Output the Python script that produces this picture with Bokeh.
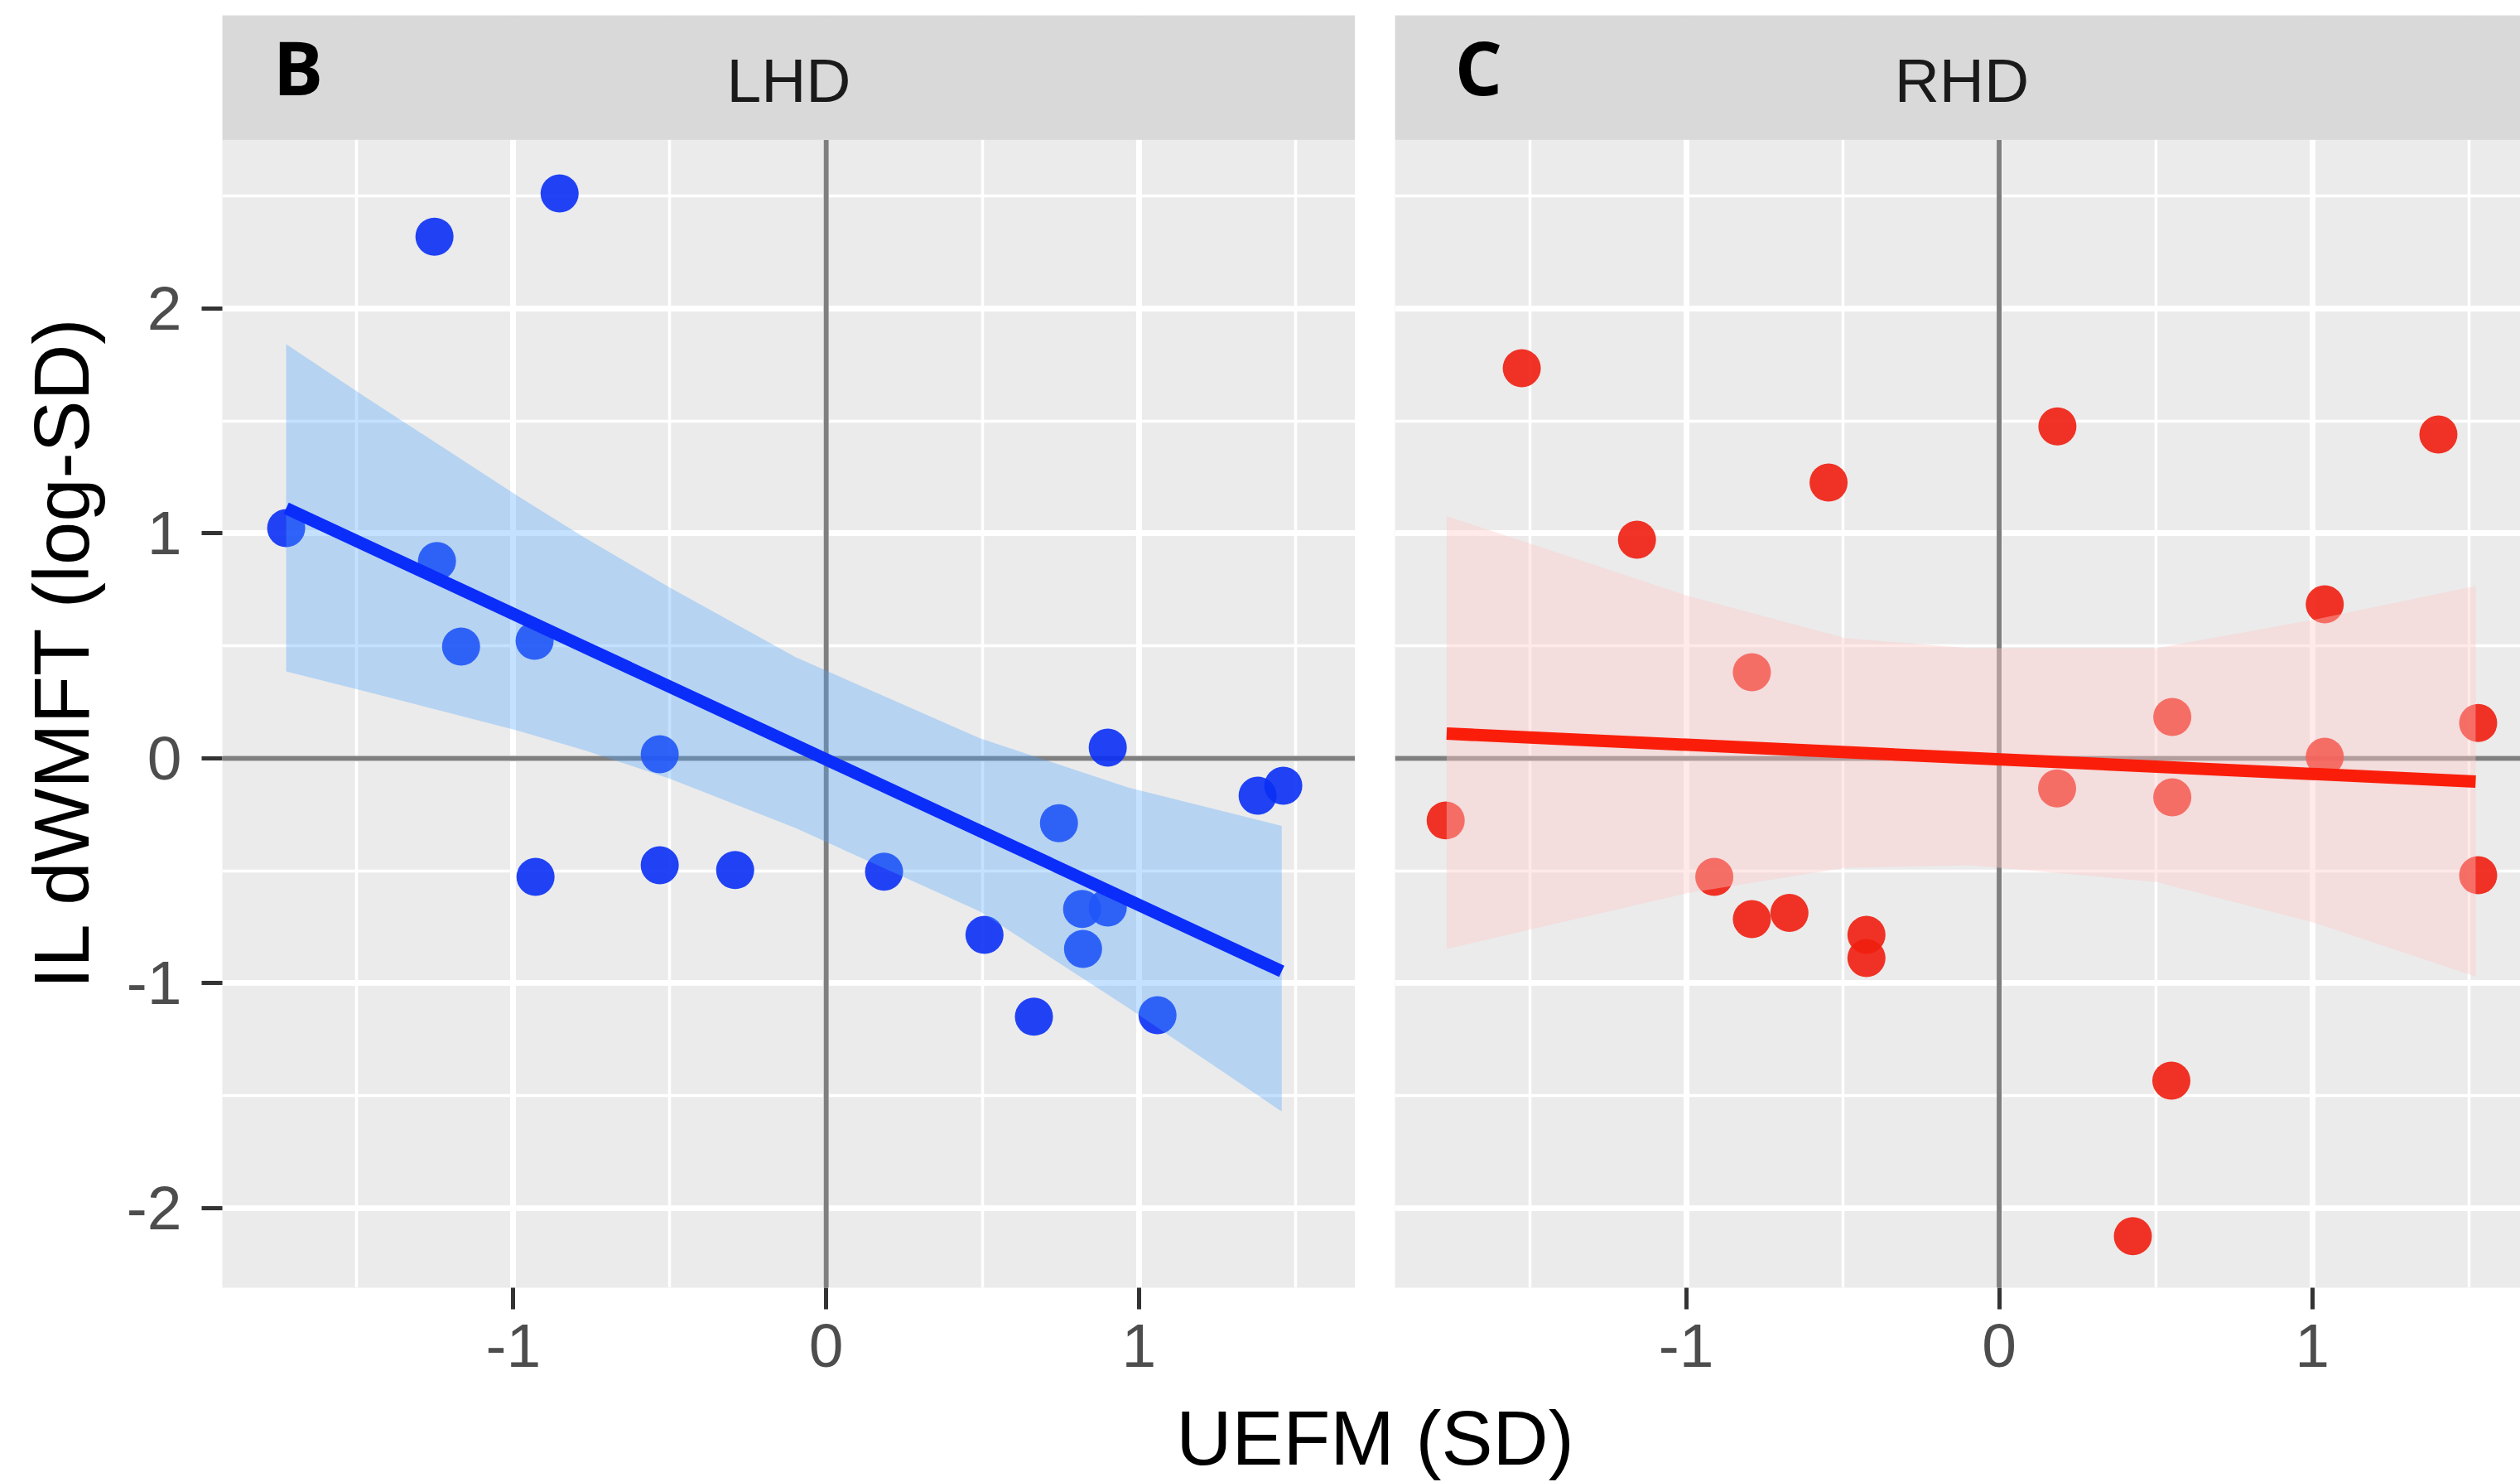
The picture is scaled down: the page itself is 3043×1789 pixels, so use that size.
from bokeh.plotting import figure
from bokeh.models import FixedTicker, Range1d
from bokeh.layouts import column, row
from bokeh.embed import file_html
from bokeh.resources import INLINE
from bokeh.core.properties import value

# ---------------- data ----------------
lhd_x = [-1.726, -1.252, -0.852, -1.244, -1.167, -0.932, -0.532, -0.929, -0.532, -0.291, 0.185,
         0.506, 0.744, 0.900, 0.818, 0.900, 0.821, 0.664, 1.059, 1.379, 1.461]
lhd_y = [1.024, 2.320, 2.512, 0.877, 0.497, 0.523, 0.018, -0.527, -0.475, -0.497, -0.504,
         -0.785, -0.288, 0.048, -0.670, -0.663, -0.847, -1.149, -1.142, -0.166, -0.122]

rhd_x = [-1.768, -1.525, -1.157, -0.790, -0.545, -0.910, -0.790, -0.670, -0.424, -0.424, 0.186,
         0.185, 0.553, 0.553, 0.427, 0.550, 1.040, 1.040, 1.403, 1.530, 1.530]
rhd_y = [-0.276, 1.735, 0.972, 0.383, 1.226, -0.527, -0.715, -0.687, -0.785, -0.888, 1.476,
         -0.134, 0.184, -0.173, -2.125, -1.433, 0.685, 0.007, 1.440, 0.157, -0.520]

lhd_fit_x = [-1.726, 1.456]
lhd_fit_y = [1.112, -0.947]
rhd_fit_x = [-1.765, 1.522]
rhd_fit_y = [0.110, -0.103]

lhd_band_x = [-1.726, -1.479, -1.36, -0.99, -0.77, -0.50, -0.098, 0.49, 0.966, 1.456]
lhd_band_hi = [1.842, 1.612, 1.505, 1.17, 0.98, 0.76, 0.45, 0.09, -0.13, -0.30]
lhd_band_lo = [0.387, 0.30, 0.258, 0.125, 0.035, -0.09, -0.31, -0.68, -1.11, -1.57]

rhd_band_x = [-1.765, -0.998, -0.49, -0.09, 0.503, 1.006, 1.522]
rhd_band_hi = [1.077, 0.724, 0.534, 0.49, 0.49, 0.617, 0.766]
rhd_band_lo = [-0.847, -0.60, -0.486, -0.475, -0.55, -0.73, -0.97]

x_ticks = [-1, 0, 1]
x_minor = [-1.5, -0.5, 0.5, 1.5]
y_ticks = [-2, -1, 0, 1, 2]
y_minor = [-1.5, -0.5, 0.5, 1.5, 2.5]
tick_labels = {-2: "-2", -1: "-1", 0: "0", 1: "1", 2: "2"}

panel_names = ["LHD", "RHD"]
panel_tags = ["B", "C"]
x_title = "UEFM (SD)"
y_title = "IL dWMFT (log-SD)"

# ---------------- layout constants ----------------
X_LO, X_HI = -1.930, 1.691      # full ggplot panel range
X_HI_RIGHT = 1.665              # right panel is clipped by the image edge
Y_LO, Y_PANEL_TOP, Y_FRAME_TOP = -2.354, 2.751, 3.304
FONT = "Liberation Sans"
FIG_H = 1680


def make_panel(width, min_left, x_hi, show_y):
    p = figure(width=width, height=FIG_H, x_range=Range1d(X_LO, x_hi),
               y_range=Range1d(Y_LO, Y_FRAME_TOP), output_backend="svg",
               toolbar_location=None, min_border_left=min_left, min_border_right=0,
               min_border_top=18, min_border_bottom=126,
               y_axis_location="left" if show_y else None)
    p.outline_line_color = None
    p.background_fill_color = "#EBEBEB"
    p.border_fill_color = "white"

    xt = FixedTicker(ticks=x_ticks, minor_ticks=x_minor)
    yt = FixedTicker(ticks=y_ticks, minor_ticks=y_minor)
    p.xaxis.ticker = xt
    p.xgrid.ticker = xt
    p.ygrid.ticker = yt
    for g in (p.xgrid, p.ygrid):
        g.grid_line_color = "white"
        g.grid_line_width = 7
        g.minor_grid_line_color = "white"
        g.minor_grid_line_width = 3.5

    ax = p.xaxis[0]
    ax.axis_line_color = None
    ax.minor_tick_line_color = None
    ax.major_tick_in = 0
    ax.major_tick_out = 26
    ax.major_tick_line_width = 5
    ax.major_tick_line_color = "#333333"
    ax.major_label_text_font = FONT
    ax.major_label_text_font_size = "75px"
    ax.major_label_text_color = "#4D4D4D"
    ax.major_label_standoff = 18
    ax.major_label_overrides = tick_labels

    if show_y:
        ay = p.yaxis[0]
        ay.ticker = yt
        ay.axis_line_color = None
        ay.minor_tick_line_color = None
        ay.major_tick_in = 0
        ay.major_tick_out = 25
        ay.major_tick_line_width = 5
        ay.major_tick_line_color = "#333333"
        ay.major_label_text_font = FONT
        ay.major_label_text_font_size = "75px"
        ay.major_label_text_color = "#4D4D4D"
        ay.major_label_standoff = 24
        ay.major_label_overrides = tick_labels
        ay.axis_label = y_title
        ay.axis_label_text_font = FONT
        ay.axis_label_text_font_size = "94px"
        ay.axis_label_text_font_style = "normal"
        ay.axis_label_text_color = "black"
        ay.axis_label_standoff = 23
    return p


def fill_panel(p, x_hi, xs, ys, bx, blo, bhi, fx, fy, pt_color, band_color, band_alpha,
               line_color, name, tag, tag_x):
    # zero reference lines
    p.segment(x0=[X_LO, 0], y0=[0, Y_LO], x1=[x_hi, 0], y1=[0, Y_PANEL_TOP],
              line_color="#7F7F7F", line_width=6)
    # points
    p.scatter(xs, ys, size=46, fill_color=pt_color, line_color=None, fill_alpha=0.9)
    # confidence band and fit
    p.varea(x=bx, y1=blo, y2=bhi, fill_color=band_color, fill_alpha=band_alpha)
    p.line(fx, fy, line_color=line_color, line_width=15)
    # strip
    p.quad(left=[X_LO], right=[x_hi], bottom=[Y_PANEL_TOP], top=[Y_FRAME_TOP],
           fill_color="#D9D9D9", line_color=None)
    p.text(x=[(X_LO + X_HI) / 2], y=[3.013], text=[name], text_font=value(FONT),
           text_font_size="75px", text_align="center", text_baseline="alphabetic",
           text_color="#1A1A1A")
    p.text(x=[tag_x], y=[3.079], text=[tag], text_font=value("Open Sans"),
           text_font_size="90px", text_font_style="bold", text_align="left",
           text_baseline="alphabetic", text_color="black")


p1 = make_panel(1636, 268, X_HI, True)
fill_panel(p1, X_HI, lhd_x, lhd_y, lhd_band_x, lhd_band_lo, lhd_band_hi, lhd_fit_x, lhd_fit_y,
           "#0A30F5", "#4DA3FF", 0.33, "#0A2DFA", panel_names[0], panel_tags[0], -1.768)

p2 = make_panel(1407, 48, X_HI_RIGHT, False)
fill_panel(p2, X_HI_RIGHT, rhd_x, rhd_y, rhd_band_x, rhd_band_lo, rhd_band_hi, rhd_fit_x, rhd_fit_y,
           "#F01E0F", "#FFC8C8", 0.4, "#FA1E0A", panel_names[1], panel_tags[1], -1.739)

# x-axis title spanning both panels
p3 = figure(width=3043, height=109, x_range=Range1d(0, 3043), y_range=Range1d(0, 109),
            output_backend="svg", toolbar_location=None, x_axis_location=None,
            y_axis_location=None, min_border_left=0, min_border_right=0,
            min_border_top=0, min_border_bottom=0)
p3.outline_line_color = None
p3.xgrid.visible = False
p3.ygrid.visible = False
p3.background_fill_color = "white"
p3.text(x=[1660], y=[54], text=[x_title], text_font=value(FONT), text_font_size="93px",
        text_align="center", text_baseline="alphabetic", text_color="black")

layout = column(row(p1, p2), p3)
open("out.html", "w").write(file_html(layout, INLINE))
